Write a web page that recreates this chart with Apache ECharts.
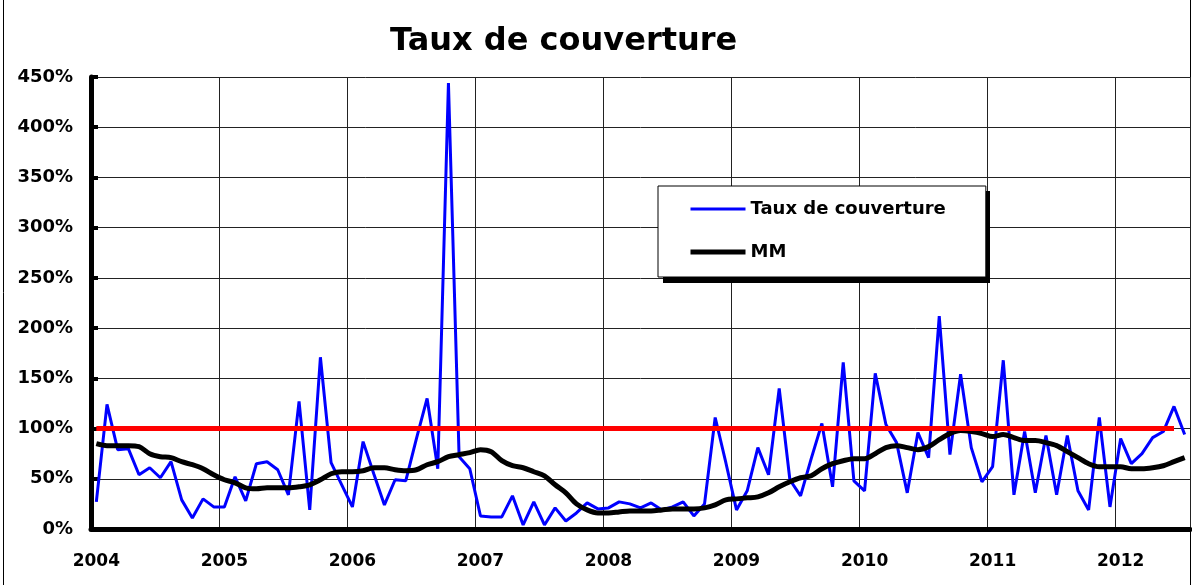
<!DOCTYPE html>
<html>
<head>
<meta charset="utf-8">
<script src="https://cdn.jsdelivr.net/npm/echarts@6/dist/echarts.min.js"></script>
<style>
  html, body { margin: 0; padding: 0; background: #fff; }
  #chart { width: 1192px; height: 585px; }
</style>
</head>
<body>
<div id="chart"></div>
<script>
// mois de janvier 2004 a juillet 2012
var years = ['2004', '2005', '2006', '2007', '2008', '2009', '2010', '2011', '2012'];
var months = [];
years.forEach(function(y) {
    for (var m = 1; m <= 12; m++) {
        if (y === '2012' && m > 7) break;
        months.push(y + '-' + (m < 10 ? '0' + m : m));
    }
});

// taux de couverture mensuel (%)
var taux = [
    27, 124, 79, 80, 54, 61, 51, 67, 29, 11, 30, 22,
    22, 52, 28, 65, 67, 59, 34, 127, 19, 171, 66, 44,
    22, 87, 55, 24, 49, 48, 90, 130, 60, 444, 72, 60,
    13, 12, 12, 33, 4, 27, 4, 21, 8, 16, 26, 20,
    21, 27, 25, 21, 26, 19, 22, 27, 13, 25, 111, 66,
    19, 38, 81, 54, 140, 49, 33, 70, 105, 42, 166, 48,
    38, 155, 104, 86, 36, 96, 71, 212, 74, 154, 81, 47,
    62, 168, 34, 97, 36, 93, 34, 93, 38, 19, 111, 22,
    90, 65, 75, 91, 97, 122, 94
];

// moyenne mobile (%)
var mm = [
    85, 83, 83, 83, 82, 75, 72, 71, 67, 64, 60, 54,
    49, 46, 41, 40, 41, 41, 41, 42, 44, 49, 55, 57,
    57, 58, 61, 61, 59, 58, 59, 64, 67, 72, 74, 76,
    79, 77, 68, 63, 61, 57, 53, 44, 36, 25, 19, 16,
    16, 17, 18, 18, 18, 19, 20, 20, 20, 21, 24, 29,
    30, 31, 32, 36, 42, 47, 51, 53, 60, 65, 68, 70,
    70, 75, 81, 83, 81, 79, 82, 89, 95, 98, 97, 95,
    92, 94, 91, 88, 88, 86, 83, 77, 71, 65, 62, 62,
    62, 60, 60, 61, 63, 67, 71
];

var seuil = 100;      // ligne rouge a 100%
var seuilFin = 101;   // dernier mois couvert par la ligne rouge

var font = 'DejaVu Sans';

var chart = echarts.init(document.getElementById('chart'));

var isJanuary = function(index) {
    return months[index].slice(5) === '01';
};

var option = {
    animation: false,
    backgroundColor: '#fff',
    title: {
        text: 'Taux de couverture',
        left: 390,
        top: 26,
        padding: 0,
        textStyle: { fontFamily: font, fontSize: 32, fontWeight: 'bold', color: '#000' }
    },
    legend: {
        data: [
            { name: 'Taux de couverture', lineStyle: { width: 3 } },
            { name: 'MM', lineStyle: { width: 5 } }
        ],
        orient: 'vertical',
        left: 658,
        top: 186,
        padding: [14, 40, 16, 30],
        itemWidth: 55,
        itemHeight: 14,
        itemGap: 25,
        itemStyle: { opacity: 0 },
        backgroundColor: '#fff',
        borderColor: '#000',
        borderWidth: 1,
        borderRadius: 0,
        textStyle: { fontFamily: font, fontSize: 18, fontWeight: 'bold', color: '#000' }
    },
    grid: { left: 91, right: 2, top: 77, bottom: 56 },
    xAxis: {
        type: 'category',
        data: months,
        boundaryGap: true,
        axisLine: { lineStyle: { color: '#000', width: 5 } },
        axisTick: { inside: true, length: 7, interval: function(i) { return isJanuary(i); },
                    lineStyle: { color: '#000', width: 4 } },
        axisLabel: {
            interval: function(i) { return isJanuary(i); },
            formatter: function(v) { return v.slice(0, 4); },
            margin: 24,
            fontFamily: font, fontSize: 17, fontWeight: 'bold', color: '#000'
        },
        splitLine: { show: true, interval: function(i) { return isJanuary(i); },
                     lineStyle: { color: '#222', width: 1 } }
    },
    yAxis: {
        type: 'value',
        min: 0,
        max: 450,
        interval: 50,
        axisLine: { show: true, lineStyle: { color: '#000', width: 5 } },
        axisTick: { show: true, inside: true, length: 7, lineStyle: { color: '#000', width: 4 } },
        axisLabel: {
            formatter: '{value}%',
            margin: 18,
            fontFamily: font, fontSize: 18, fontWeight: 'bold', color: '#000'
        },
        splitLine: { lineStyle: { color: '#222', width: 1 } }
    },
    series: [
        {
            name: 'Taux de couverture',
            type: 'line',
            data: taux,
            symbol: 'none',
            color: '#0000ff',
            lineStyle: { color: '#0000ff', width: 3 },
            z: 2
        },
        {
            name: 'MM',
            type: 'line',
            data: mm,
            symbol: 'none',
            smooth: 0.3,
            color: '#000',
            lineStyle: { color: '#000', width: 5 },
            z: 3,
            markLine: {
                silent: true,
                symbol: 'none',
                label: { show: false },
                lineStyle: { color: '#ff0000', width: 5, type: 'solid' },
                data: [[
                    { coord: [months[0], seuil] },
                    { coord: [months[seuilFin], seuil] }
                ]]
            }
        }
    ],
    graphic: [
        // ombre de la legende
        { type: 'rect', z: 3, shape: { x: 663, y: 191, width: 327, height: 92 }, style: { fill: '#000' } },
        { type: 'line', shape: { x1: 3.5, y1: 0, x2: 3.5, y2: 585 }, style: { stroke: '#000', lineWidth: 1 } },
        { type: 'line', shape: { x1: 1190.5, y1: 0, x2: 1190.5, y2: 585 }, style: { stroke: '#000', lineWidth: 1 } }
    ]
};

chart.setOption(option);
</script>
</body>
</html>
